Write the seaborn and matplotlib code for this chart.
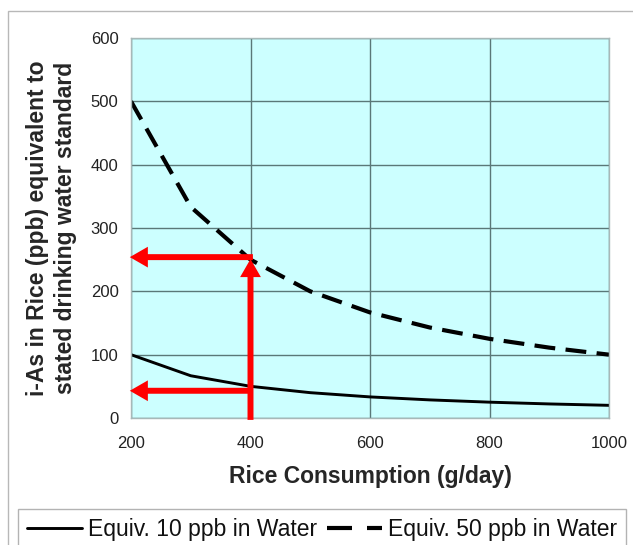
import matplotlib
matplotlib.use("Agg")
import matplotlib.pyplot as plt
from matplotlib.patches import Rectangle
from matplotlib.lines import Line2D
import seaborn as sns
import pandas as pd

# Rice consumption (g/day) and the rice i-As level (ppb) equivalent to each water standard
rice_consumption = [200, 300, 400, 500, 600, 700, 800, 900, 1000]
equiv_10ppb = [100, 66.7, 50, 40, 33.3, 28.6, 25, 22.2, 20]
equiv_50ppb = [500, 333.3, 250, 200, 166.7, 142.9, 125, 111.1, 100]
series_names = ["Equiv. 10 ppb in Water", "Equiv. 50 ppb in Water"]

# Read-off guides at 400 g/day
guide_x = 400
guide_upper = 254
guide_lower = 43

x_ticks = [200, 400, 600, 800, 1000]
y_ticks = [0, 100, 200, 300, 400, 500, 600]

df = pd.DataFrame({
    "consumption": rice_consumption * 2,
    "ias": equiv_10ppb + equiv_50ppb,
    "series": [series_names[0]] * len(rice_consumption) + [series_names[1]] * len(rice_consumption),
})

sns.set_theme(style="white")
plt.rcParams["font.family"] = ["Liberation Sans", "DejaVu Sans"]

fig = plt.figure(figsize=(6.33, 5.45), dpi=100)
ax = fig.add_axes([131 / 633, 1 - 418 / 545, (609 - 131) / 633, (418 - 38) / 545])
ax.set_facecolor("#ccffff")

sns.lineplot(
    data=df, x="consumption", y="ias", hue="series", style="series",
    palette={series_names[0]: "black", series_names[1]: "black"},
    dashes={series_names[0]: "", series_names[1]: (5, 2.5)},
    ax=ax, legend=False,
)
solid_line, dashed_line = ax.lines[0], ax.lines[1]
solid_line.set_linewidth(2.1)
dashed_line.set_linewidth(3.0)
dashed_line.set_linestyle((0, (5, 2.5)))
dashed_line.set_dash_capstyle("butt")

ax.set_xlim(200, 1000)
ax.set_ylim(0, 600)
ax.set_xticks(x_ticks)
ax.set_yticks(y_ticks)
ax.grid(True, color="#5a7878", linewidth=1.0)
ax.set_axisbelow(True)
for side in ["left", "right", "top", "bottom"]:
    ax.spines[side].set_color("#a8b8b8")
    ax.spines[side].set_linewidth(1.0)
ax.tick_params(axis="both", which="both", direction="out", length=4, width=1,
               color="#a0a0a0", labelsize=12, labelcolor="#222222", pad=5)
ax.tick_params(axis="x", pad=9)

ax.set_xlabel("Rice Consumption (g/day)", fontsize=16.5, fontweight="bold", labelpad=10)
ax.set_ylabel("i-As in Rice (ppb) equivalent to\nstated drinking water standard",
              fontsize=16.5, fontweight="bold", labelpad=10, linespacing=1.25)

# Red read-off arrows
arrow_style = "simple,head_length=1.0,head_width=1.15,tail_width=0.33"
arrow_kw = dict(arrowstyle=arrow_style, color="#ff0000", lw=0, mutation_scale=13,
                shrinkA=0, shrinkB=0)
ax.annotate("", xy=(guide_x, guide_upper - 3), xytext=(guide_x, -3),
            arrowprops=arrow_kw, annotation_clip=False)
ax.annotate("", xy=(198, guide_upper), xytext=(guide_x + 4, guide_upper),
            arrowprops=arrow_kw, annotation_clip=False)
ax.annotate("", xy=(198, guide_lower), xytext=(guide_x + 4, guide_lower),
            arrowprops=arrow_kw, annotation_clip=False)

# Legend along the bottom of the figure
handles = [
    Line2D([], [], color="black", linewidth=2.1),
    Line2D([], [], color="black", linewidth=3.0, linestyle=(0, (6, 3.6)), dash_capstyle="butt"),
]
leg = fig.legend(
    handles, series_names, loc="upper left", ncol=2,
    bbox_to_anchor=(18 / 633, 1 - 509 / 545),
    bbox_transform=fig.transFigure, borderaxespad=0,
    fontsize=16.5, frameon=True, fancybox=False, handlelength=2.4,
    handletextpad=0.25, columnspacing=0.45, borderpad=0.4,
)
leg.get_frame().set_edgecolor("#a0a0a0")
leg.get_frame().set_linewidth(1.0)
for text in leg.get_texts():
    text.set_color("#111111")

# Outer chart frame
fig.patches.append(Rectangle((8 / 633, -0.2), 1.2, 1.2 - 11 / 545, transform=fig.transFigure,
                             fill=False, edgecolor="#b8b8b8", linewidth=1.0, zorder=0))

fig.savefig("out.png", dpi=100, facecolor="white")
